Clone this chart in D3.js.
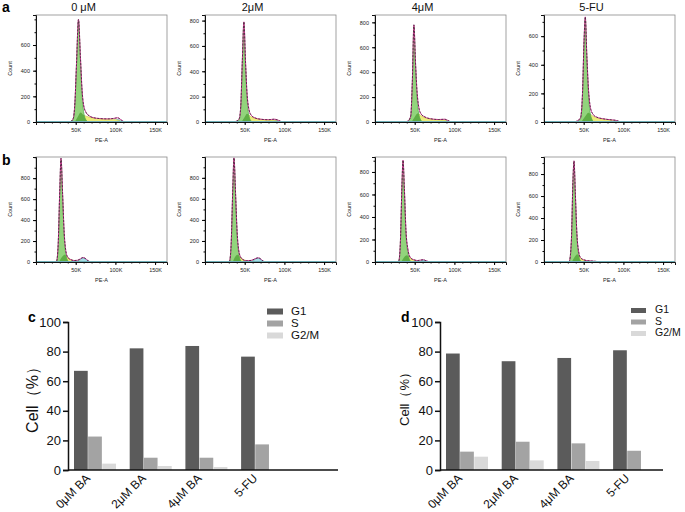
<!DOCTYPE html>
<html><head><meta charset="utf-8">
<script src="https://cdn.jsdelivr.net/npm/d3@7"></script>
<style>body{margin:0;background:#fff}svg{display:block;font-family:"Liberation Sans",Arial,sans-serif}</style>
</head><body><svg id="fig" width="685" height="512"></svg>
<script>
// ---------- histogram data (x in K units of PE-A, y = count) ----------
const histTitles = ["0 μM", "2μM", "4μM", "5-FU"];
const histXTicks = [50, 100, 150];
const histXLabels = ["50K", "100K", "150K"];
const histYMaxA = [834, 844, 859, 748];
const histYMaxB = [1002, 998, 933, 955];
const histYTicksA = [[0,200,400,600],[0,200,400,600,800],[0,200,400,600,800],[0,200,400,600]];
const histYTicksB = [0,200,400,600,800];

const totA0 = [[0,0],[40,0],[44,5],[47,30],[49,150],[51,450],[53.5,800],[56,500],[58,250],[60,130],[63,75],[67,48],[72,34],[80,27],[90,24],[98,28],[103,33],[106,22],[110,5],[115,0],[165,0]];
const g1A0 = [[43,0],[47,25],[49,140],[51,440],[53.5,790],[56,480],[58,220],[60,80],[63,15],[66,0]];
const sA0 = [[49,0],[53,45],[56,75],[60,55],[66,40],[74,30],[84,24],[94,22],[101,18],[106,8],[110,0]];
const g2A0 = [[97,0],[100,10],[103,20],[106,10],[109,0]];

const totA2 = [[0,0],[35,0],[40,8],[43,25],[45,120],[47,480],[49,790],[51,480],[53,220],[55,110],[58,55],[63,32],[70,22],[80,18],[87,22],[92,15],[96,3],[100,0],[165,0]];
const g1A2 = [[39,0],[43,20],[45,110],[47,470],[49,780],[51,460],[53,190],[55,60],[58,8],[60,0]];
const sA2 = [[46,0],[50,40],[53,65],[57,45],[64,28],[72,20],[80,16],[87,14],[92,8],[96,0]];
const g2A2 = [[84,0],[87,8],[89,12],[92,6],[95,0]];

const totA4 = [[0,0],[38,0],[42,10],[45,50],[47,320],[49,780],[51,480],[53,240],[55,125],[58,65],[63,40],[70,26],[80,20],[88,22],[92,12],[96,0],[165,0]];
const g1A4 = [[40,0],[45,40],[47,310],[49,770],[51,460],[53,200],[55,70],[58,12],[60,0]];
const sA4 = [[46,0],[50,40],[54,70],[58,50],[64,32],[72,22],[80,18],[88,16],[92,8],[96,0]];
const g2A4 = [[85,0],[88,8],[90,12],[93,6],[96,0]];

const totA5 = [[0,0],[38,0],[42,8],[46,30],[48.5,200],[50.5,580],[52,735],[54,460],[56,230],[58,115],[61,60],[66,35],[75,22],[85,15],[90,12],[94,5],[98,0],[165,0]];
const g1A5 = [[41,0],[46,25],[48.5,190],[50.5,570],[52,725],[54,440],[56,200],[58,70],[61,12],[63,0]];
const sA5 = [[47,0],[52,40],[56,65],[60,48],[66,30],[75,20],[85,13],[92,6],[96,0]];
const g2A5 = [[86,0],[89,6],[91,9],[94,4],[97,0]];

const totB0 = [[0,0],[24,0],[26,10],[28,180],[30,700],[31.5,990],[33.5,650],[35.5,280],[37.5,110],[40,45],[44,22],[48,14],[52,16],[56,30],[59,42],[62,35],[65,15],[68,3],[72,0],[165,0]];
const g1B0 = [[24,0],[26,10],[28,175],[30,690],[31.5,980],[33.5,630],[35.5,250],[37.5,80],[39.5,20],[42,0]];
const sB0 = [[29,0],[33,50],[36,70],[40,40],[45,20],[50,12],[55,8],[60,4],[65,0]];
const g2B0 = [[51,0],[55,20],[59,40],[63,25],[67,5],[70,0]];

const totB2 = [[0,0],[30,0],[31,10],[33,180],[35,700],[36.5,990],[38.5,650],[40.5,280],[42.5,110],[45,45],[48,22],[52,12],[58,15],[63,30],[67,40],[70,30],[73,10],[76,0],[165,0]];
const g1B2 = [[29,0],[31,10],[33,175],[35,690],[36.5,980],[38.5,630],[40.5,250],[42.5,80],[44.5,20],[47,0]];
const sB2 = [[35,0],[38,50],[41,70],[45,40],[50,18],[56,10],[62,6],[68,0]];
const g2B2 = [[58,0],[62,20],[66,38],[70,25],[74,5],[77,0]];

const totB4 = [[0,0],[28,0],[30,10],[32,180],[34,700],[35.3,905],[37,650],[39,280],[41.5,110],[44,45],[48,22],[54,13],[58,18],[61,20],[64,12],[68,3],[72,0],[165,0]];
const g1B4 = [[28,0],[30,10],[32,175],[34,690],[35.3,895],[37,630],[39,250],[41.5,80],[43.5,20],[46,0]];
const sB4 = [[33,0],[37,45],[40,60],[44,35],[50,15],[56,8],[62,4],[66,0]];
const g2B4 = [[54,0],[58,10],[61,16],[64,10],[68,0]];

const totB5 = [[0,0],[30,0],[32,10],[34.5,200],[36.5,750],[37.8,920],[39.5,620],[41.5,250],[43.5,100],[46,40],[50,20],[55,12],[60,9],[66,5],[70,0],[165,0]];
const g1B5 = [[30,0],[32,10],[34.5,195],[36.5,740],[37.8,910],[39.5,600],[41.5,230],[43.5,70],[45.5,15],[48,0]];
const sB5 = [[35,0],[39,50],[42,70],[46,35],[52,15],[58,8],[64,4],[68,0]];
const g2B5 = [[58,0],[61,4],[64,6],[67,3],[70,0]];

// ---------- bar chart data ----------
const cycleCats = ["0μM BA", "2μM BA", "4μM BA", "5-FU"];
const phases = ["G1", "S", "G2/M"];
const cG1 = [67.0, 82.2, 83.8, 76.6];
const cS = [22.6, 8.3, 8.3, 17.3];
const cG2M = [4.3, 2.7, 2.0, 0];
const dG1 = [78.7, 73.5, 75.7, 80.9];
const dS = [12.4, 19.1, 18.0, 13.0];
const dG2M = [9.0, 6.5, 6.1, 0];
const pctTicks = [0, 20, 40, 60, 80, 100];

const svg = d3.select("#fig");
const defs = svg.append("defs");
let clipId = 0;

function drawHist(left, top, bottom, yMax, yTicks, tot, g1, s, g2, title) {
  const W = 131;
  const x = d3.scaleLinear([0, 165], [left, left + W]);
  const y = d3.scaleLinear([0, yMax], [bottom, top]);
  const g = svg.append("g");
  const area = d3.area().x(d => x(d[0])).y0(y(0)).y1(d => y(d[1])).curve(d3.curveMonotoneX);
  const line = d3.line().x(d => x(d[0])).y(d => y(d[1])).curve(d3.curveMonotoneX);

  g.append("path").attr("d", area(g2)).attr("fill", "#a6dfe6").attr("stroke", "#3aa0b0").attr("stroke-width", 0.6);
  g.append("path").attr("d", area(s)).attr("fill", "#ecec7a").attr("stroke", "#b8b840").attr("stroke-width", 0.5);
  g.append("path").attr("d", area(g1)).attr("fill", "#92d47c").attr("stroke", "#3f9c3a").attr("stroke-width", 0.6);
  const cid = "clip" + (clipId++);
  defs.append("clipPath").attr("id", cid).append("path").attr("d", area(g1));
  g.append("path").attr("d", area(s)).attr("fill", "#5fae45").attr("clip-path", `url(#${cid})`);
  g.append("path").attr("d", line(tot)).attr("fill", "none").attr("stroke", "#d8389c").attr("stroke-width", 1);
  g.append("path").attr("d", line(tot)).attr("fill", "none").attr("stroke", "#222").attr("stroke-width", 0.7).attr("stroke-dasharray", "2,1.5");
  g.append("line").attr("x1", left).attr("x2", left + W).attr("y1", bottom - 0.5).attr("y2", bottom - 0.5).attr("stroke", "#5cc6d6").attr("stroke-width", 1);

  g.append("rect").attr("x", left).attr("y", top).attr("width", W).attr("height", bottom - top)
    .attr("fill", "none").attr("stroke", "#8a8a8a").attr("stroke-width", 0.8);

  const yMinor = d3.range(0, yMax, 100);
  g.append("g").attr("transform", `translate(${left},0)`)
    .call(d3.axisLeft(y).tickValues(yMinor).tickSize(1.5).tickFormat(""))
    .call(a => a.select(".domain").remove());
  const ya = g.append("g").attr("transform", `translate(${left},0)`)
    .call(d3.axisLeft(y).tickValues(yTicks).tickSize(3).tickPadding(3));
  ya.select(".domain").attr("stroke", "#111").attr("stroke-width", 1);
  ya.selectAll("text").attr("font-size", 5.5).attr("fill", "#222");

  const xMinor = d3.range(0, 166, 10);
  g.append("g").attr("transform", `translate(0,${bottom})`)
    .call(d3.axisBottom(x).tickValues(xMinor).tickSize(1.5).tickFormat(""))
    .call(a => a.select(".domain").remove());
  const xa = g.append("g").attr("transform", `translate(0,${bottom})`)
    .call(d3.axisBottom(x).tickValues(histXTicks).tickSize(3).tickPadding(3).tickFormat((d, i) => histXLabels[i]));
  xa.select(".domain").attr("stroke", "#111").attr("stroke-width", 1);
  xa.selectAll("text").attr("font-size", 5.5).attr("fill", "#222");

  g.append("text").attr("x", left + W / 2).attr("y", bottom + 20).attr("text-anchor", "middle")
    .attr("font-size", 5.5).attr("fill", "#222").text("PE-A");
  g.append("text").attr("transform", `translate(${left - 24},${(top + bottom) / 2}) rotate(-90)`)
    .attr("text-anchor", "middle").attr("font-size", 5.5).attr("fill", "#222").text("Count");
  if (title) {
    g.append("text").attr("x", left + W / 2 - 18).attr("y", 11).attr("text-anchor", "middle")
      .attr("font-size", 11).attr("fill", "#111").text(title);
  }
}

const histLefts = [36, 205, 375, 544];
const rowA = [[totA0, g1A0, sA0, g2A0], [totA2, g1A2, sA2, g2A2], [totA4, g1A4, sA4, g2A4], [totA5, g1A5, sA5, g2A5]];
const rowB = [[totB0, g1B0, sB0, g2B0], [totB2, g1B2, sB2, g2B2], [totB4, g1B4, sB4, g2B4], [totB5, g1B5, sB5, g2B5]];
rowA.forEach((d, i) => drawHist(histLefts[i], 15, 122, histYMaxA[i], histYTicksA[i], d[0], d[1], d[2], d[3], histTitles[i]));
rowB.forEach((d, i) => drawHist(histLefts[i], 157, 262, histYMaxB[i], histYTicksB, d[0], d[1], d[2], d[3], null));

svg.append("text").attr("x", 2).attr("y", 12).attr("font-size", 14).attr("font-weight", "bold").text("a");
svg.append("text").attr("x", 2).attr("y", 165).attr("font-size", 14).attr("font-weight", "bold").text("b");

// ---------- bar charts ----------
const barColors = ["#5b5b5b", "#a3a3a3", "#d9d9d9"];
function drawBars(opts) {
  const { axisX, axisEnd, bandStart, letter, letterX, vals, labelSize, tickSize, legX, legTextX, legYs, legSize, swW, swH } = opts;
  const y = d3.scaleLinear([0, 100], [470, 322]);
  const step = 55.7, gap = 13.7;
  const x0 = d3.scaleBand(cycleCats, [bandStart, bandStart + 4 * step - gap]).paddingInner(gap / step);
  const x1 = d3.scaleBand(phases, [0, x0.bandwidth()]).paddingInner(0.03);
  const g = svg.append("g");
  cycleCats.forEach((c, ci) => {
    phases.forEach((p, pi) => {
      const v = vals[pi][ci];
      if (v <= 0) return;
      g.append("rect").attr("x", x0(c) + x1(p)).attr("y", y(v)).attr("width", x1.bandwidth())
        .attr("height", y(0) - y(v)).attr("fill", barColors[pi]);
    });
  });
  const ya = g.append("g").attr("transform", `translate(${axisX},0)`)
    .call(d3.axisLeft(y).tickValues(pctTicks).tickSize(5).tickPadding(2));
  ya.selectAll("line,path").attr("stroke", "#111").attr("stroke-width", 1.5);
  ya.selectAll("text").attr("font-size", tickSize).attr("fill", "#111");
  g.append("line").attr("x1", axisX).attr("x2", axisEnd).attr("y1", 470).attr("y2", 470)
    .attr("stroke", "#111").attr("stroke-width", 1.5);
  cycleCats.forEach(c => {
    const cx = x0(c) + x0.bandwidth() / 2;
    g.append("text").attr("transform", `translate(${cx - 4},479) rotate(-45)`)
      .attr("text-anchor", "end").attr("font-size", 12).attr("fill", "#111").text(c);
  });
  g.append("text").attr("transform", `translate(${axisX - 34},396) rotate(-90)`)
    .attr("text-anchor", "middle").attr("dominant-baseline", "middle")
    .attr("font-size", labelSize).attr("fill", "#111").text("Cell（%）");
  g.append("text").attr("x", letterX).attr("y", 322).attr("font-size", 14).attr("font-weight", "bold").text(letter);
  phases.forEach((p, i) => {
    g.append("rect").attr("x", legX).attr("y", legYs[i] - swH / 2).attr("width", swW).attr("height", swH).attr("fill", barColors[i]);
    g.append("text").attr("x", legTextX).attr("y", legYs[i]).attr("dominant-baseline", "middle")
      .attr("font-size", legSize).attr("fill", "#111").text(p);
  });
}
drawBars({ axisX: 68, axisEnd: 338, bandStart: 74, letter: "c", letterX: 28, vals: [cG1, cS, cG2M],
  labelSize: 16, tickSize: 13, legX: 267, legTextX: 291, legYs: [311.5, 323.5, 335.5], legSize: 11.5, swW: 16, swH: 6 });
drawBars({ axisX: 440, axisEnd: 663, bandStart: 446, letter: "d", letterX: 401, vals: [dG1, dS, dG2M],
  labelSize: 13, tickSize: 13, legX: 631, legTextX: 655, legYs: [310.5, 322, 333.5], legSize: 10.5, swW: 15, swH: 5 });
</script>
</body></html>
